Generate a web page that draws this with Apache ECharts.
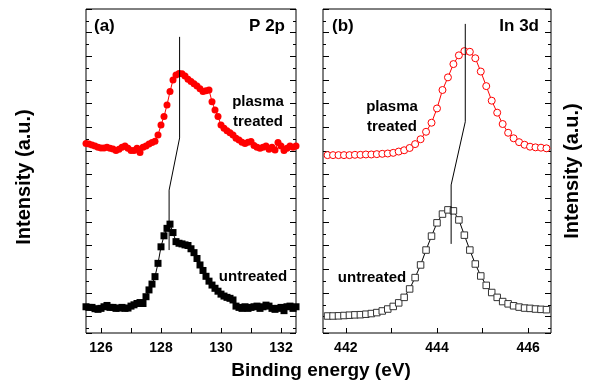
<!DOCTYPE html>
<html>
<head>
<meta charset="utf-8">
<script src="https://cdn.jsdelivr.net/npm/echarts@6/dist/echarts.min.js"></script>
<style>
  html, body { margin: 0; padding: 0; background: #fff; }
  #chart { width: 593px; height: 389px; }
</style>
</head>
<body>
<div id="chart"></div>
<script>
// P 2p panel (a)
const p2pEnergy = [
  125.5, 125.6, 125.7, 125.8, 125.9, 126.0, 126.1, 126.2, 126.3, 126.4,
  126.5, 126.6, 126.7, 126.8, 126.9, 127.0, 127.1, 127.2, 127.3, 127.4,
  127.5, 127.6, 127.7, 127.8, 127.9, 128.0, 128.1, 128.2, 128.3, 128.4,
  128.5, 128.6, 128.7, 128.8, 128.9, 129.0, 129.1, 129.2, 129.3, 129.4,
  129.5, 129.6, 129.7, 129.8, 129.9, 130.0, 130.1, 130.2, 130.3, 130.4,
  130.5, 130.6, 130.7, 130.8, 130.9, 131.0, 131.1, 131.2, 131.3, 131.4,
  131.5, 131.6, 131.7, 131.8, 131.9, 132.0, 132.1, 132.2, 132.3, 132.4,
  132.5
];
const p2pPlasma = [
  58.5, 58.3, 58.0, 57.7, 57.3, 57.1, 57.1, 57.3, 57.0, 56.8,
  56.3, 56.7, 57.3, 57.7, 57.0, 56.3, 56.3, 57.0, 55.7, 57.3,
  57.7, 58.3, 58.8, 59.2, 61.1, 64.2, 66.8, 70.4, 74.5, 78.1,
  79.6, 80.1, 80.0, 79.3, 78.3, 77.6, 76.9, 76.2, 75.4, 74.5,
  74.8, 75.0, 71.4, 68.8, 66.8, 64.2, 63.2, 62.4, 61.8, 61.1,
  60.1, 59.6, 58.9, 58.5, 58.9, 59.1, 57.9, 57.3, 57.0, 57.3,
  57.7, 56.7, 57.3, 56.5, 58.8, 57.7, 56.3, 57.0, 57.7, 57.3,
  57.7
];
const p2pUntreated = [
  8.1, 7.9, 7.9, 7.5, 7.3, 7.6, 8.1, 8.5, 7.9, 7.9,
  7.6, 7.7, 7.9, 7.6, 7.7, 8.3, 8.7, 9.1, 9.4, 9.1,
  11.2, 13.3, 15.1, 17.4, 21.5, 26.6, 30.0, 32.3, 33.6, 31.0,
  28.2, 27.7, 27.5, 27.2, 27.0, 26.0, 24.8, 23.0, 21.0, 19.3,
  17.5, 16.0, 14.8, 13.8, 12.9, 12.0, 11.4, 11.0, 10.7, 10.2,
  8.3, 7.9, 7.6, 8.1, 7.6, 7.9, 8.1, 8.3, 7.6, 8.1,
  8.6, 8.3, 7.6, 7.3, 7.6, 7.9, 6.9, 8.1, 8.3, 7.6,
  8.1
];
const p2pGuide = [[128.62, 91.4], [128.62, 60.2], [128.27, 44.1], [128.27, 25.6]];
const p2pTicks = [126, 127, 128, 129, 130, 131, 132];
const p2pLabels = [126, 128, 130, 132];

// In 3d panel (b)
const in3dEnergy = [
  441.60, 441.72, 441.84, 441.96, 442.08, 442.20, 442.32, 442.44, 442.56, 442.68,
  442.80, 442.92, 443.04, 443.16, 443.28, 443.40, 443.52, 443.64, 443.76, 443.88,
  444.00, 444.12, 444.24, 444.36, 444.48, 444.60, 444.72, 444.84, 444.96, 445.08,
  445.20, 445.32, 445.44, 445.56, 445.68, 445.80, 445.92, 446.04, 446.16, 446.28,
  446.40
];
const in3dPlasma = [
  54.9, 54.9, 54.9, 54.9, 54.9, 55.0, 55.0, 55.1, 55.1, 55.2,
  55.3, 55.4, 55.6, 56.0, 56.4, 57.1, 58.3, 59.8, 62.1, 64.9,
  69.3, 75.0, 78.9, 83.0, 85.7, 87.0, 86.8, 84.8, 80.7, 76.2,
  71.7, 68.0, 64.5, 61.8, 60.1, 58.9, 58.1, 57.5, 57.3, 57.2,
  57.0
];
const in3dUntreated = [
  5.25, 5.25, 5.3, 5.4, 5.5, 5.6, 5.65, 5.8, 6.0, 6.3,
  6.8, 7.4, 8.2, 9.3, 11.0, 13.6, 17.1, 21.0, 25.6, 29.9,
  34.0, 36.7, 38.0, 37.7, 34.9, 30.2, 25.6, 21.3, 17.6, 14.7,
  12.5, 11.0, 9.7, 9.0, 8.4, 8.0, 7.7, 7.6, 7.4, 7.3,
  7.2
];
const in3dGuide = [[444.62, 95.4], [444.62, 65.2], [444.31, 45.7], [444.31, 27.5]];
const in3dTicks = [442, 443, 444, 445, 446];
const in3dLabels = [442, 444, 446];

const FONT = "'Liberation Sans', Arial, sans-serif";
const zip = (xs, ys) => xs.map((x, i) => [x, ys[i]]);

const xAxisFor = (grid, min, max, ticks, labels) => ({
  gridIndex: grid,
  type: "value",
  min: min,
  max: max,
  axisLine: { show: false },
  splitLine: { show: false },
  axisTick: { inside: true, length: 5, customValues: ticks, lineStyle: { color: "#000" } },
  axisLabel: {
    customValues: labels,
    margin: 8,
    color: "#000",
    fontSize: 14,
    fontWeight: "bold",
    fontFamily: FONT,
  },
});

// frame ticks on the y sides have no labels; they run from the top edge
const tickAxis = (grid, side, max, len) => ({
  gridIndex: grid,
  type: "value",
  position: side,
  inverse: true,
  min: 0,
  max: max,
  interval: 1,
  axisLine: { show: false },
  splitLine: { show: false },
  axisLabel: { show: false },
  axisTick: { inside: true, length: len, lineStyle: { color: "#000" } },
});

const yAxesFor = (grid) => [
  { gridIndex: grid, type: "value", min: 0, max: 100, show: false },
  tickAxis(grid, "left", 13.69, 6),
  tickAxis(grid, "left", 27.38, 3),
  tickAxis(grid, "right", 13.69, 6),
  tickAxis(grid, "right", 27.38, 3),
];

const textEl = (x, y, text, size, align) => ({
  type: "text",
  x: x,
  y: y,
  z: 10,
  style: {
    text: text,
    fill: "#000",
    font: "bold " + size + "px " + FONT,
    align: align || "center",
    verticalAlign: "middle",
    lineHeight: 20,
  },
});

const chart = echarts.init(document.getElementById("chart"), null, { renderer: "canvas" });

chart.setOption({
  animation: false,
  backgroundColor: "#fff",
  grid: [
    { left: 86, top: 9, width: 210, height: 324, show: true, borderColor: "#000", borderWidth: 1, backgroundColor: "transparent" },
    { left: 323, top: 9, width: 228, height: 324, show: true, borderColor: "#000", borderWidth: 1, backgroundColor: "transparent" },
  ],
  xAxis: [
    xAxisFor(0, 125.5, 132.5, p2pTicks, p2pLabels),
    xAxisFor(1, 441.5, 446.5, in3dTicks, in3dLabels),
  ],
  yAxis: [...yAxesFor(0), ...yAxesFor(1)],
  series: [
    {
      type: "line", xAxisIndex: 0, yAxisIndex: 0,
      data: zip(p2pEnergy, p2pPlasma),
      symbol: "circle", symbolSize: 7,
      itemStyle: { color: "#ff0000" },
      lineStyle: { color: "#ff0000", width: 1 },
    },
    {
      type: "line", xAxisIndex: 0, yAxisIndex: 0,
      data: zip(p2pEnergy, p2pUntreated),
      symbol: "rect", symbolSize: 7,
      itemStyle: { color: "#000" },
      lineStyle: { color: "#000", width: 1 },
    },
    {
      type: "line", xAxisIndex: 0, yAxisIndex: 0, z: 5,
      data: p2pGuide, symbol: "none",
      lineStyle: { color: "#000", width: 1 },
    },
    {
      type: "line", xAxisIndex: 1, yAxisIndex: 5,
      data: zip(in3dEnergy, in3dPlasma),
      symbol: "circle", symbolSize: 7,
      itemStyle: { color: "#fff", borderColor: "#ff0000", borderWidth: 1 },
      lineStyle: { color: "#ff0000", width: 1 },
    },
    {
      type: "line", xAxisIndex: 1, yAxisIndex: 5,
      data: zip(in3dEnergy, in3dUntreated),
      symbol: "rect", symbolSize: 6.5,
      itemStyle: { color: "#fff", borderColor: "#333", borderWidth: 1 },
      lineStyle: { color: "#000", width: 1 },
    },
    {
      type: "line", xAxisIndex: 1, yAxisIndex: 5, z: 5,
      data: in3dGuide, symbol: "none",
      lineStyle: { color: "#000", width: 1 },
    },
  ],
  graphic: [
    textEl(94, 26, "(a)", 17, "left"),
    textEl(285, 26, "P 2p", 17, "right"),
    textEl(258, 112, "plasma\ntreated", 15),
    textEl(253, 277, "untreated", 15),
    textEl(332, 26, "(b)", 17, "left"),
    textEl(539, 26, "In 3d", 17, "right"),
    textEl(392, 117, "plasma\ntreated", 15),
    textEl(372, 278, "untreated", 15),
    textEl(321, 371, "Binding energy (eV)", 19),
    Object.assign(textEl(24, 177, "Intensity (a.u.)", 20), { rotation: Math.PI / 2 }),
    Object.assign(textEl(572, 171, "Intensity (a.u.)", 20), { rotation: Math.PI / 2 }),
  ],
});
</script>
</body>
</html>
